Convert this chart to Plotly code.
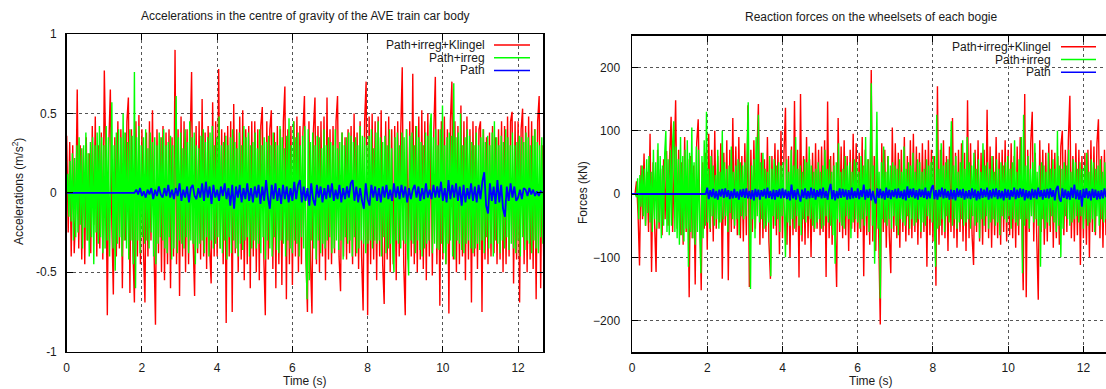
import numpy as np
import plotly.graph_objects as go

W, H = 1106, 389

# ---------------- data: accelerations (centi m/s^2) ----------------
ACC_UNIT = 0.01
ACC_KLINGEL_DT = 0.04
ACC_KLINGEL = [
    36,-25,32,-40,30,-38,-10,65,-35,30,-42,28,-45,35,-30,25,-38,42,-20,48,-40,30,-35,38,-42,
    77,20,-77,30,65,-20,-64,35,-40,45,-35,40,-60,38,-30,45,60,-63,40,-35,-69,45,-40,49,-45,
    40,-35,-69,38,-40,45,-30,52,-35,-83,40,-38,35,-50,42,-55,38,-45,40,-60,35,-40,90,-45,40,
    -65,48,-40,45,-50,40,-45,30,76,-30,-65,42,-38,45,-42,59,-40,38,-48,42,-35,-57,57,-40,45,
    -40,78,-35,40,-45,38,-82,42,-40,45,-75,56,-38,40,-50,48,-42,52,-55,40,-45,42,-60,45,-40,
    45,-50,40,-55,42,54,-40,-77,45,-42,40,52,-48,38,-60,42,-45,40,-58,45,67,-67,40,-45,42,
    -58,45,-40,48,-50,42,-45,38,61,-40,-75,45,-42,-76,40,60,-45,42,-50,45,-40,48,-55,60,-42,
    40,-45,42,-38,45,61,-40,-62,38,-40,35,-42,40,-38,42,-45,50,-40,38,-48,45,-40,-74,45,70,
    -77,48,-45,50,-42,45,-55,48,-40,52,-45,-70,45,-42,48,-50,40,-45,42,-55,45,-40,38,79,-45,
    -77,40,-42,45,-40,75,-45,42,-50,48,-42,52,-48,45,-55,50,-40,45,-52,40,73,-45,40,-71,45,
    -42,48,-45,40,-76,45,70,-42,45,-50,42,-45,55,-40,45,-55,48,-42,40,-69,45,-40,42,-48,40,
    45,-75,40,-42,35,-45,38,-40,42,-38,35,-45,40,-42,45,-50,42,-45,48,-40,45,51,-57,45,-42,
    45,-69,40,53,-45,42,-50,48,-42,45,-48,40,-67,45,61,-60,30,-40,
]
ACC_IRREG_DT = 0.03
ACC_IRREG = [
    0,12,-15,20,-18,25,-30,22,-28,30,-25,35,-20,28,-35,30,-22,38,-30,25,-40,32,-28,35,-45,30,-25,38,-32,42,-28,35,-38,
    30,-35,42,-30,35,-40,28,57,-35,30,-49,38,-32,40,-28,35,-40,50,-30,38,-35,32,-42,40,-30,36,-45,76,-60,35,-30,42,-38,
    30,-28,35,-32,40,-30,28,-35,38,-25,32,-40,35,-45,30,-32,38,-28,35,-30,40,-35,30,-38,32,-28,36,-42,30,-35,32,61,-38,
    35,-30,38,-32,28,-35,40,-28,32,-38,45,-30,35,-32,38,-45,30,-35,28,-32,36,-30,40,-38,32,-28,35,-40,38,-30,42,-35,30,
    -32,35,-28,48,-35,30,-38,32,-30,36,-42,30,-28,35,-38,40,-30,32,-35,28,-40,38,-32,30,-36,42,-30,35,-28,38,-40,30,-35,
    32,-30,38,-35,28,-32,40,-38,30,-28,35,-42,32,-30,36,-35,30,-40,38,-28,32,-36,30,-38,42,-30,35,-32,28,-40,36,-30,47,
    -35,30,-38,45,-30,35,-32,38,-40,30,-28,36,-35,42,-38,-67,40,-55,32,-30,38,-35,30,-42,36,-30,35,-38,28,-32,40,-35,30,
    -30,35,-28,32,-38,30,-35,40,-30,28,-36,32,-30,38,-42,30,-28,35,-32,38,-30,36,-40,32,-28,35,-38,30,-35,42,-30,36,-32,
    35,-38,30,-32,36,-30,40,-35,28,-30,38,-32,45,-30,35,-40,32,-28,36,-38,30,-35,40,-32,28,-36,-50,35,-30,38,-32,30,-35,
    38,-30,35,-32,40,-35,-52,36,-30,38,-32,30,-38,42,-30,35,-36,32,-40,30,-35,38,-32,36,-30,42,50,-38,35,-32,40,-35,30,
    -36,40,-32,55,-38,30,-45,35,-32,38,-30,36,-40,69,-42,35,-30,38,-32,50,-36,30,-38,35,-32,40,-30,36,-35,32,-38,30,-35,
    38,-32,30,-36,35,-30,40,-38,32,-28,36,-35,30,-32,38,-40,45,-30,35,-32,30,-38,36,-30,32,-35,40,-28,35,-36,30,-32,38,
    -35,30,-38,32,-30,36,-40,35,-28,32,-36,38,-30,35,-32,30,-38,36,-30,40,-35,32,-38,30,-28,35,-32,
]
ACC_PATH_DT = 0.05
ACC_PATH = [
    0,0,0,0,0,0,0,0,0,0,0,0,0,0,0,0,0,0,0,0,0,0,0,0,0,0,0,0,0,0,0,0,0,0,0,0,0,
    2,-1,3,-2,1,-3,2,-1,3,-4,2,-2,4,-1,-3,3,-2,5,-3,2,
    -4,3,-2,6,-5,2,-3,4,-6,3,5,-2,-4,3,-3,6,-5,7,-3,4,
    -7,5,-3,2,-5,4,-2,6,-4,3,-8,5,-10,4,-3,5,-6,3,-4,6,
    -5,3,-6,4,-3,5,-7,4,-5,8,-3,-10,5,-4,6,-5,3,-7,5,-4,
    4,-6,3,-5,7,-4,5,8,-6,4,-5,3,-8,6,-4,-8,5,-3,4,-6,
    3,-4,5,-3,6,-5,2,-4,5,-6,3,-4,4,-3,6,8,-5,4,-6,3,
    -5,-10,6,-4,-8,5,-3,4,-5,3,-6,4,-3,5,-4,2,-5,6,-3,4,
    -4,5,-3,4,-6,3,-4,2,5,-3,4,-5,3,-4,6,-3,2,-4,5,-3,
    4,-3,7,-5,3,-6,8,-4,5,-3,6,-5,4,-8,5,-6,3,-4,6,-5,
    4,-6,5,-4,7,13,-8,-13,6,-5,4,-7,8,-6,5,-10,-15,4,-5,6,
    -3,4,-5,-3,2,-4,3,2,-2,3,-1,2,-2,1,-2,1,0,
]

# ---------------- data: reaction forces (kN) ----------------
F_KLINGEL_DT = 0.04
F_KLINGEL = [
    0,0,0,20,-30,-113,45,-40,64,-50,35,-60,95,-123,50,-45,-123,70,-55,40,-65,55,-40,68,-50,
    60,122,-60,45,148,-55,70,-65,50,-80,90,-60,55,-163,60,-70,45,-143,80,118,-60,-152,50,-55,65,
    -88,95,-60,70,-75,100,-55,60,-45,80,-134,65,-50,85,-136,70,-60,120,-55,75,-65,90,-70,60,-75,
    80,-65,140,-147,70,-60,85,-55,60,142,-80,65,-70,55,-60,90,-75,-134,60,-55,80,-65,70,-95,100,
    -70,65,136,-80,60,-100,75,-65,147,-60,70,-132,158,-75,60,-80,90,-70,55,-100,65,-60,80,-55,70,
    -65,75,-60,85,-131,146,-70,60,-80,65,-55,-147,120,-60,75,-70,85,-65,60,-90,70,-55,95,-60,80,
    -70,65,-60,90,-130,70,-65,55,-80,196,-75,60,-90,65,-70,-206,80,-60,70,-85,60,-65,-125,105,-60,
    80,-70,65,-85,70,-60,90,-75,60,-65,85,-70,95,-60,75,-80,65,-70,80,-60,70,-115,85,-65,70,
    -75,60,-145,170,-80,70,-65,85,-70,60,-90,75,-60,120,-70,65,-85,70,-60,80,-75,65,-90,148,-70,
    80,-65,-112,70,-60,85,-75,65,-80,70,-60,133,-70,75,-85,60,-65,90,-70,65,-80,70,-60,85,-75,
    70,-65,80,-70,60,-85,75,-65,90,-70,-152,158,-163,70,-60,80,130,-75,65,-70,-167,85,-60,70,-80,
    65,-75,80,-60,70,-85,65,-70,60,-80,75,100,-65,70,-60,85,155,-70,60,-75,80,-65,70,-112,60,
    -70,65,-80,70,-100,85,-60,75,-65,80,118,-70,60,-85,70,-65,80,
]
F_IRREG_DT = 0.03
F_IRREG = [
    0,0,0,0,-5,25,-40,30,-20,45,-35,40,-50,55,-30,60,-45,35,-60,70,-40,50,-55,80,-45,60,-70,45,-50,65,100,-60,55,
    -65,70,-50,80,115,-60,75,-70,55,-80,90,-65,60,-75,70,-55,85,-115,65,-60,105,-70,50,-80,75,-60,70,-55,-125,60,-70,85,-50,
    130,-45,40,-55,60,-35,45,-50,30,-40,70,-55,35,-45,100,-40,50,-35,40,-60,45,-30,75,-40,35,-50,45,-40,55,-65,50,-35,45,
    -40,50,-35,60,145,-50,-150,45,-40,55,-70,90,-35,125,-45,50,-40,65,-55,40,-50,35,-45,60,-130,40,-35,55,-50,45,-40,50,-60,
    45,-35,50,-40,-100,55,-45,35,-50,70,-40,45,-55,90,-35,40,-50,45,-65,35,-40,55,-45,50,-35,75,-40,45,-50,35,-55,40,-45,
    50,-40,35,-55,45,-50,70,-35,40,-45,55,-50,35,-65,45,-110,50,-40,80,-45,35,-50,40,-55,60,-35,45,-40,50,-70,35,-45,55,
    -40,50,-45,35,-55,60,-40,45,-50,90,-35,55,-60,40,175,-50,45,-110,40,130,-55,35,-165,50,-40,75,-45,35,-50,60,-40,45,-55,
    50,-35,45,-50,40,-65,55,-40,35,-45,75,-50,40,-35,50,-55,45,-40,65,-50,35,-45,55,-40,50,-60,35,-45,40,-50,55,-35,45,
    -40,50,-45,60,-50,-115,125,-55,40,-50,80,-40,45,-60,50,-35,55,-45,40,115,-50,45,-40,60,-55,35,-45,50,-40,85,-50,40,-45,
    90,-40,50,-55,45,-35,65,-50,40,-45,55,-70,35,-40,80,-50,45,-35,50,-55,40,-45,60,-40,35,-50,55,-45,40,-65,50,-35,45,
    -40,50,-45,60,-35,40,-55,50,-40,85,-45,35,-50,55,-40,90,-125,125,-50,45,-40,60,-55,40,-35,50,-45,80,-40,35,-50,45,-115,
    50,-40,45,-55,35,-45,65,-50,40,-35,55,-45,40,-60,100,-50,45,-100,40,-55,50,-35,45,-40,70,-50,35,-45,55,-40,50,-35,40,
    -45,50,-35,40,-55,45,-40,65,-50,35,-45,55,-40,50,-60,40,-35,45,-50,55,-40,35,-45,50,-40,75,-50,
]
F_PATH_DT = 0.04
F_PATH = [
    0,0,0,0,0,0,0,0,0,0,0,0,0,0,0,0,0,0,0,0,0,0,0,0,0,
    0,0,0,0,0,0,0,0,0,0,0,0,0,0,0,0,0,0,0,0,0,0,0,0,0,
    10,-8,6,-5,8,-7,5,-9,7,-4,8,-6,9,-5,6,-8,5,-7,8,-6,4,-9,7,-5,8,
    -6,9,-7,5,-8,6,-10,8,-5,7,-9,6,-4,8,-7,10,-6,5,-8,7,-9,6,-5,8,-7,
    9,-6,7,-8,5,-10,15,-7,6,-9,8,-5,-12,7,-6,9,-8,5,-7,10,-6,8,-9,6,-5,
    8,-7,10,-6,5,-9,7,16,-8,6,-10,5,-7,9,-6,8,-5,7,-9,6,-8,10,-7,5,-6,
    9,-8,6,-5,15,-9,7,-6,8,-10,5,-7,-15,9,-6,8,-7,5,-9,10,-6,7,-8,6,-5,
    8,-7,9,-6,5,-8,7,-10,12,-6,8,-5,9,-7,6,-9,8,-5,7,-6,10,-8,5,-7,9,
    14,-8,6,-9,7,-5,10,-7,8,-6,5,-9,7,-8,6,-10,9,-5,7,-6,8,-9,5,-7,6,
    -8,9,-6,7,-10,5,-8,9,-6,7,-5,10,-9,6,-7,8,-5,9,-8,6,-7,5,-10,8,-6,
    7,-9,6,-5,10,-8,7,-6,9,-5,8,-10,6,-7,5,-9,8,-6,7,-8,10,-5,6,-9,7,
    -6,8,-7,9,-5,6,-10,8,13,-7,-12,9,-6,7,-8,5,-9,10,-6,15,-8,7,-9,6,-20,
    8,-6,9,-7,5,-10,8,-6,7,-9,5,-8,6,-7,9,-5,6,
]

SERIES_NAMES = ["Path+irreg+Klingel", "Path+irreg", "Path"]
COLORS = ["#ff0000", "#00ff00", "#0000ff"]
WIDTHS = [1.4, 1.4, 1.8]
X_TICKS = [0, 2, 4, 6, 8, 10, 12]
ACC_TICKS = [-1, -0.5, 0, 0.5, 1]
F_TICKS = [-200, -100, 0, 100, 200]

FONT = "Liberation Sans, Arial, Helvetica, sans-serif"
TXT = "#1a1a1a"


def px(x):
    return x / W


def py(y):
    return 1 - y / H


def times(vals, dt):
    return np.arange(len(vals)) * dt


fig = go.Figure()

acc_sets = [(ACC_KLINGEL, ACC_KLINGEL_DT), (ACC_IRREG, ACC_IRREG_DT), (ACC_PATH, ACC_PATH_DT)]
for (vals, dt), name, c, w in zip(acc_sets, SERIES_NAMES, COLORS, WIDTHS):
    fig.add_trace(go.Scatter(x=times(vals, dt), y=np.array(vals) * ACC_UNIT, mode="lines",
                             name=name, line=dict(color=c, width=w), xaxis="x", yaxis="y",
                             showlegend=False, hoverinfo="skip"))

f_sets = [(F_KLINGEL, F_KLINGEL_DT), (F_IRREG, F_IRREG_DT), (F_PATH, F_PATH_DT)]
for (vals, dt), name, c, w in zip(f_sets, SERIES_NAMES, COLORS, WIDTHS):
    fig.add_trace(go.Scatter(x=times(vals, dt), y=vals, mode="lines",
                             name=name, line=dict(color=c, width=w), xaxis="x2", yaxis="y2",
                             showlegend=False, hoverinfo="skip"))

axis_common = dict(
    showline=True, linecolor="black", linewidth=1.5,
    ticks="inside", ticklen=6, tickcolor="black", tickwidth=1,
    showgrid=True, gridcolor="#555555", griddash="dot", gridwidth=1,
    zeroline=False, tickfont=dict(family=FONT, size=12, color=TXT),
    automargin=False,
)

L_X0, L_X1, L_Y0, L_Y1 = 66.7, 543.3, 34.0, 351.7
R_X0, R_Y0, R_Y1 = 632.0, 35.7, 352.3
PX_PER_S = (L_X1 - L_X0) / 12.67

fig.update_layout(
    width=W, height=H, margin=dict(l=0, r=0, t=0, b=0),
    paper_bgcolor="white", plot_bgcolor="white", showlegend=False,
    font=dict(family=FONT, size=12, color=TXT),
    xaxis=dict(domain=[px(L_X0), px(L_X1)], range=[0, 12.67], tickvals=X_TICKS,
               mirror="ticks", anchor="y", ticklabelstandoff=4, **axis_common),
    yaxis=dict(domain=[py(L_Y1), py(L_Y0)], range=[-1, 1], tickvals=ACC_TICKS,
               ticktext=["-1", "-0.5", "0", "0.5", "1"],
               mirror="ticks", anchor="x", ticklabelstandoff=6, **axis_common),
    xaxis2=dict(domain=[px(R_X0), 1.0], range=[0, (W - R_X0) / PX_PER_S], tickvals=X_TICKS,
                mirror="ticks", anchor="y2", ticklabelstandoff=4, **axis_common),
    yaxis2=dict(domain=[py(R_Y1), py(R_Y0)], range=[-250, 250], tickvals=F_TICKS,
                mirror=False, anchor="x2", ticklabelstandoff=8, **axis_common),
)

ann = []
shapes = []
# titles and axis labels
ann.append(dict(text="Accelerations in the centre of gravity of the AVE train car body",
                x=px(305), y=py(16), xref="paper", yref="paper", showarrow=False,
                font=dict(size=12), xanchor="center", yanchor="middle"))
ann.append(dict(text="Reaction forces on the wheelsets of each bogie",
                x=px(871), y=py(17), xref="paper", yref="paper", showarrow=False,
                font=dict(size=12), xanchor="center", yanchor="middle"))
for cx in (305, 871):
    ann.append(dict(text="Time (s)", x=px(cx), y=py(381), xref="paper", yref="paper",
                    showarrow=False, font=dict(size=12), xanchor="center", yanchor="middle"))
ann.append(dict(text="Accelerations (m/s<sup>2</sup>)", x=px(18), y=py(192), xref="paper",
                yref="paper", showarrow=False, textangle=-90, font=dict(size=12),
                xanchor="center", yanchor="middle"))
ann.append(dict(text="Forces (kN)", x=px(583), y=py(193), xref="paper", yref="paper",
                showarrow=False, textangle=-90, font=dict(size=12),
                xanchor="center", yanchor="middle"))

# legends (gnuplot style: text then sample line)
legends = [
    dict(box=(334, 533, 35, 79), text_right=487, line=(494, 530), rows=(45, 57.7, 70.5)),
    dict(box=(899, 1098, 36.5, 81), text_right=1053, line=(1061, 1096), rows=(46.7, 59.5, 72.3)),
]
for lg in legends:
    bx0, bx1, by0, by1 = lg["box"]
    shapes.append(dict(type="rect", xref="paper", yref="paper", x0=px(bx0), x1=px(bx1),
                       y0=py(by1), y1=py(by0), fillcolor="white", line=dict(width=0),
                       layer="between"))
    for name, c, ry in zip(SERIES_NAMES, COLORS, lg["rows"]):
        ann.append(dict(text=name, x=px(lg["text_right"]), y=py(ry), xref="paper", yref="paper",
                        showarrow=False, font=dict(size=12), xanchor="right", yanchor="middle"))
        shapes.append(dict(type="line", xref="paper", yref="paper", x0=px(lg["line"][0]),
                           x1=px(lg["line"][1]), y0=py(ry), y1=py(ry),
                           line=dict(color=c, width=1.5), layer="above"))

fig.update_layout(annotations=ann, shapes=shapes)
fig.write_html("out.html", config={"displayModeBar": False, "staticPlot": True},
               post_script="document.body.style.margin='0px';document.body.style.overflow='hidden';")
